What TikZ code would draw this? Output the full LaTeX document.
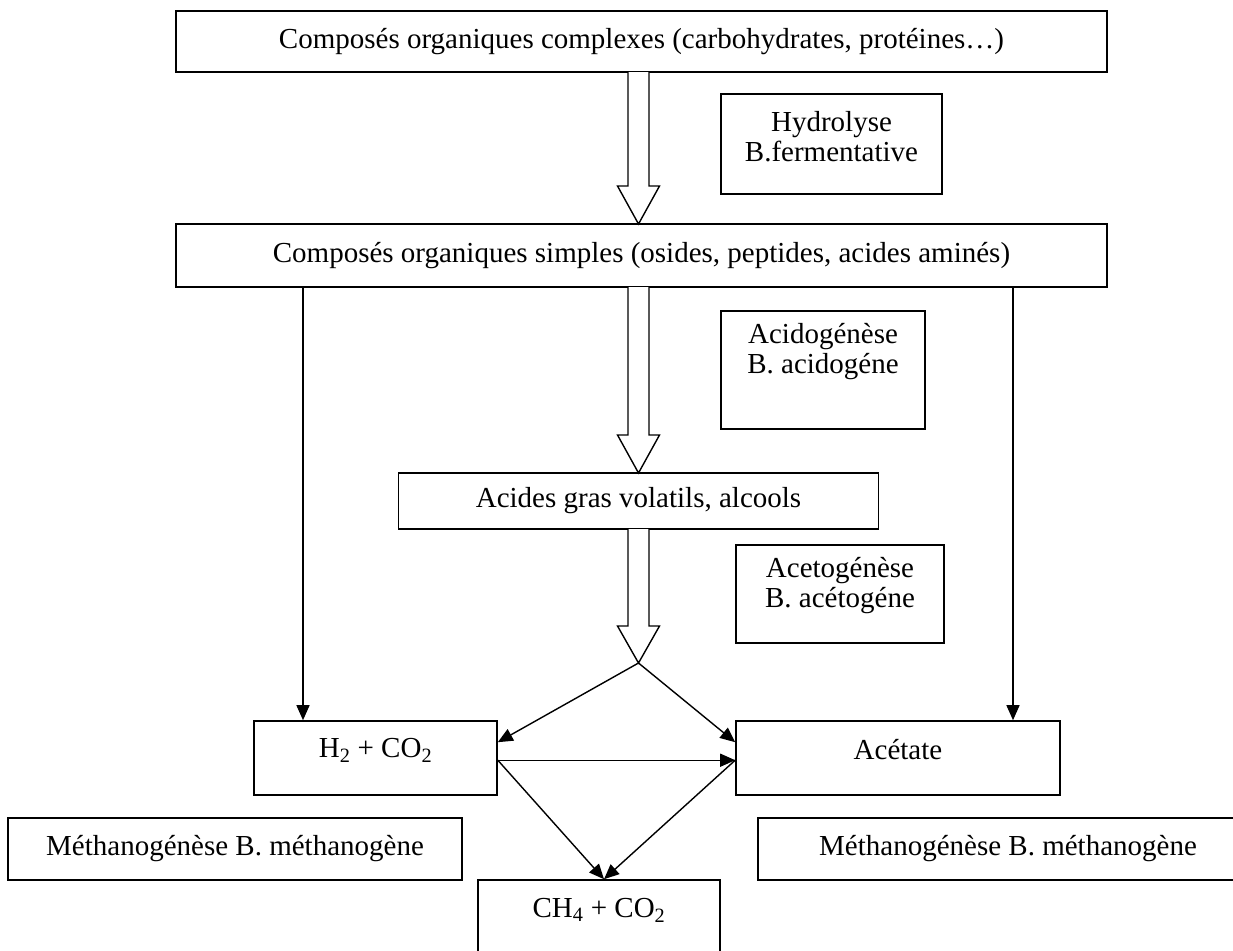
\documentclass[tikz,border=0pt]{standalone}
\usepackage{fontspec}
\setmainfont{Liberation Serif}
\usetikzlibrary{arrows.meta,calc}
\begin{document}
\begin{tikzpicture}[x=1pt,y=-1pt,
  box/.style={draw,line width=1.6pt,inner sep=0pt},
  lbl/.style={font=\fontsize{29}{30}\selectfont,align=center,inner sep=0pt},
  con/.style={line width=1.4pt,-{Triangle[length=15pt,width=13pt]}},
  hollow/.style={draw,line width=1.4pt,fill=white,line join=miter}]
\useasboundingbox (0,0) rectangle (1233,950);
\clip (0,0) rectangle (1233,950);
% boxes
\node[box,minimum width=931pt,minimum height=61pt] (top) at (641.5,41.5) {};
\node[box,minimum width=221pt,minimum height=100pt] (hyd) at (831.5,144) {};
\node[box,minimum width=931pt,minimum height=63pt] (box2) at (641.5,255.5) {};
\node[box,minimum width=204pt,minimum height=118pt] (acido) at (823,370) {};
\node[box,minimum width=480pt,minimum height=56pt] (acides) at (638.5,501) {};
\node[box,minimum width=208pt,minimum height=98pt] (aceto) at (840,594) {};
\node[box,minimum width=243pt,minimum height=74pt] (h2) at (375.5,758) {};
\node[box,minimum width=324pt,minimum height=74pt] (acet) at (898,758) {};
\node[box,minimum width=454pt,minimum height=62pt] (mL) at (235,849) {};
\node[box,minimum width=500pt,minimum height=62pt] (mR) at (1008,849) {};
\node[box,minimum width=242pt,minimum height=80pt] (ch4) at (599,920) {};
% texts
\node[lbl] (ttop) at (641.5,42) {Composés organiques complexes (carbohydrates, protéines…)};
\node[lbl] (thyd) at (831.5,137) {Hydrolyse\\B.fermentative};
\node[lbl] (tbox2) at (641.5,256) {Composés organiques simples (osides, peptides, acides aminés)};
\node[lbl] (tacido) at (823,352) {Acidogénèse\\B. acidogéne};
\node[lbl] (tacides) at (638.5,501) {Acides gras volatils, alcools};
\node[lbl] (taceto) at (840,586) {Acetogénèse\\B. acétogéne};
\node[lbl] (th2) at (375.5,750) {H\textsubscript{2} + CO\textsubscript{2}};
\node[lbl] (tacet) at (898,750) {Acétate};
\node[lbl] (tmL) at (235,849) {Méthanogénèse B. méthanogène};
\node[lbl] (tmR) at (1008,849) {Méthanogénèse B. méthanogène};
\node[lbl] (tch4) at (599,910) {CH\textsubscript{4} + CO\textsubscript{2}};
% hollow arrows
\draw[hollow] (628,72) -- (628,186) -- (617.5,186) -- (638.5,224) -- (659.5,186) -- (649,186) -- (649,72);
\draw[hollow] (628,287) -- (628,435) -- (617.5,435) -- (638.5,473) -- (659.5,435) -- (649,435) -- (649,287);
\draw[hollow] (628,529) -- (628,626) -- (617.5,626) -- (638.5,663) -- (659.5,626) -- (649,626) -- (649,529);
% connectors
\coordinate (lx) at (303,0);
\coordinate (rx) at (1013,0);
\coordinate (split) at (638.5,663);
\draw[con] (lx |- box2.south) -- (lx |- h2.north);
\draw[con] (rx |- box2.south) -- (rx |- acet.north);
\draw[con] (split) -- ($(h2.north east)+(0,22)$);
\draw[con] (split) -- ($(acet.north west)+(0,22)$);
\draw[con] ($(h2.north east)+(0,40)$) -- ($(acet.north west)+(0,40)$);
\draw[con] ($(h2.north east)+(0,40)$) -- ($(ch4.north)+(5,0)$);
\draw[con] ($(acet.north west)+(0,40)$) -- ($(ch4.north)+(5,0)$);
\end{tikzpicture}
\end{document}
